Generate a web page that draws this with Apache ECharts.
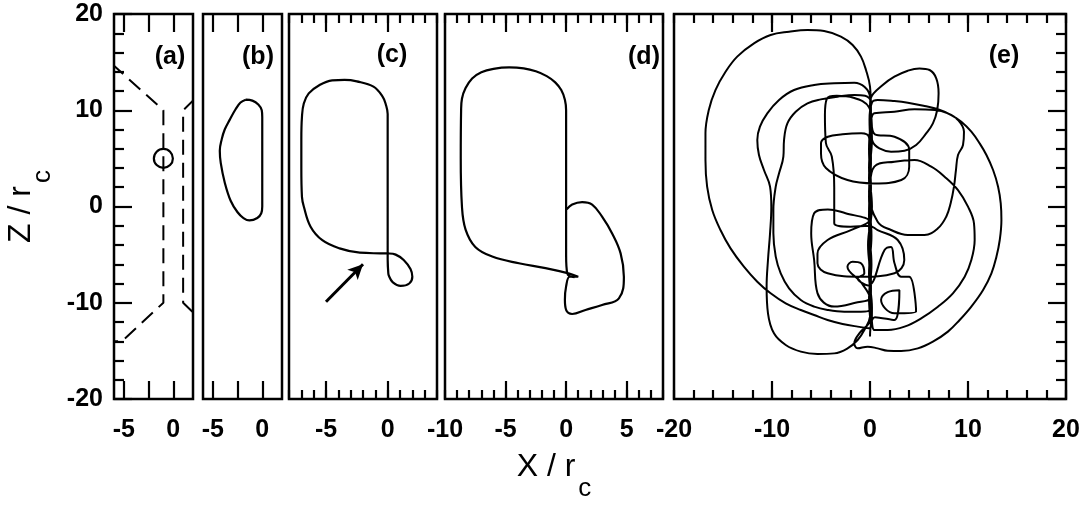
<!DOCTYPE html>
<html>
<head>
<meta charset="utf-8">
<script src="https://cdn.jsdelivr.net/npm/echarts@6/dist/echarts.min.js"></script>
<style>
  html, body { margin: 0; padding: 0; background: #fff; }
  #chart { width: 1087px; height: 512px; }
</style>
</head>
<body>
<div id="chart"></div>
<script>
// ---- data ----
const panelNames = ['(a)', '(b)', '(c)', '(d)', '(e)'];
const xRanges = [[-6, 2], [-6, 2], [-8, 4], [-10, 8], [-20, 20]];
const zMin = -20, zMax = 20, zStep = 10;
const xMajorTicks = [[-5, -2.5, 0], [-5, -2.5, 0], [-5, 0], [-5, 0, 5], [-10, 0, 10]];
const xLabels = [[-5, 0], [-5, 0], [-5, 0], [-10, -5, 0, 5], [-20, -10, 0, 10, 20]];
const xMinorStep = [0, 0, 1, 1, 2];

// (a) nozzle walls (dashed) and the starting point
const nozzleLeft = [[-6.2, 14.8], [-1, 10], [-1, -10], [-5.2, -14], [-6.2, -14]];
const nozzleRight = [[2.2, 11.2], [1, 10], [1, -10], [2.2, -11.2]];
const startPoint = [[-1, 5]];

// (b) closed orbit
const orbitB = [[-1.67, 11.1], [-1.0, 11.0], [-0.4, 10.6], [-0.05, 10.0], [0, 9.3], [0, 7], [0, 4], [0, 1], [0, 0],
  [-0.1, -0.7], [-0.5, -1.2], [-1.3, -1.45], [-1.9, -1.2], [-2.5, -0.6], [-3.2, 0.6], [-3.8, 2.5], [-4.2, 4.5],
  [-4.3, 5.8], [-4.1, 7], [-3.8, 8], [-3.3, 9], [-2.7, 10.1], [-2.2, 10.8], [-1.67, 11.1]];

// (c) orbit with small loop, and arrow
const orbitC = [[0.05, -6.9], [0, -5.5], [0, -3], [0, 0], [0, 3], [0, 6], [0, 8.5], [0, 9.6], [-0.15, 10.6],
  [-0.4, 11.4], [-1.15, 12.45], [-2.5, 13.0], [-3.5, 13.15], [-4.5, 13.1], [-5.55, 12.6], [-6.4, 11.75],
  [-6.8, 10.7], [-6.95, 9.3], [-7.0, 7], [-7.0, 4], [-6.95, 1.0], [-6.8, 0], [-6.25, -2.1], [-5.3, -3.5],
  [-3.9, -4.35], [-2.26, -4.8], [-0.6, -4.87], [0.1, -4.88], [0.65, -5.0], [1.3, -5.55], [1.85, -6.5],
  [2.0, -7.3], [1.75, -8.0], [1.05, -8.25], [0.4, -7.85], [0.1, -7.2], [0.05, -6.9], [0, -5.5]];
const arrowC = [[-5.0, -9.9], [-2.0, -6.0]];

// (d) orbit
const orbitD = [[0.05, -0.3], [0.5, 0.2], [1.32, 0.45], [2.15, 0.2], [2.97, -1.06], [3.8, -2.8], [4.5, -4.87],
  [4.77, -7.3], [4.36, -9.55], [2.97, -10.23], [1.6, -10.75], [0.5, -11.17], [0, -10.75], [-0.1, -9.7],
  [0, -8.3], [0.3, -7.3], [1.0, -7.3],
  [0.2, -6.95], [-1.7, -6.4], [-3.9, -5.9], [-6.1, -5.2], [-7.5, -4.2], [-8.3, -2.4], [-8.6, 0], [-8.7, 5],
  [-8.67, 10], [-8.6, 11.2], [-8.3, 12.3], [-7.76, 13.3], [-7.0, 13.95], [-6.0, 14.3], [-4.7, 14.45],
  [-3.5, 14.35], [-2.5, 14.05], [-1.6, 13.55], [-0.9, 12.9], [-0.4, 12.1], [-0.1, 11.1], [0, 10], [0, 5],
  [0, 1], [0, -2], [0, -5], [0.1, -7], [0.7, -7.35]];

// (e) chaotic orbit
const orbitE = [
  // up the axis
  [0.1, -12.4], [-0.1, -9.5], [0.15, -6], [-0.1, -2], [0.1, 2], [-0.1, 6], [0.1, 10], [0, 12.45],
  // big left loop
  [-0.41, 14.18], [-0.92, 15.57], [-1.77, 16.78], [-2.97, 17.65], [-4.68, 18.23], [-6.38, 18.34], [-8.26, 18.16],
  [-10.14, 17.82], [-11.84, 16.95], [-13.55, 15.57], [-14.74, 14.0], [-15.77, 12.1], [-16.45, 10.03],
  [-16.79, 7.6], [-16.79, 4.83], [-16.62, 2.06], [-16.1, -0.36], [-15.26, -2.44], [-14.23, -4.35],
  [-12.87, -6.25], [-11.5, -7.81], [-10.14, -9.02], [-8.6, -10.06], [-7.06, -10.75], [-5.7, -11.27],
  [-4.33, -11.79], [-2.8, -12.2], [-1.26, -12.48], [0, -12.66],
  [0.2, -10.5], [-0.1, -7], [0.15, -3], [-0.1, 1], [0.1, 5], [-0.05, 9], [0.2, 10.8],
  // outer right loop
  [0.78, 11.07], [2.49, 10.96], [3.86, 10.79], [5.56, 10.44], [6.93, 10.1], [8.29, 9.5], [9.32, 8.81],
  [10.34, 7.77], [11.19, 6.56], [11.88, 5.35], [12.56, 3.79], [13.07, 2.06], [13.34, 0.33], [13.41, -1.4],
  [13.24, -3.48], [12.9, -5.21], [12.39, -6.94], [11.54, -8.68], [10.34, -10.4], [9.15, -11.79], [7.95, -13.0],
  [6.42, -14.04], [4.88, -14.74], [3.17, -15.01], [1.81, -14.98], [0.78, -14.74], [-0.24, -14.56],
  [-1.26, -14.74], [-1.6, -14.2], [-1.09, -13.18], [0, -11.79],
  [0.1, -8], [-0.2, -4], [0.2, 0], [-0.1, 4], [0.1, 8], [0, 11.4],
  // left loop A
  [-1.6, 12.87], [-3.65, 12.8], [-5.7, 12.62], [-7.75, 12.1], [-9.28, 11.07], [-10.48, 9.68], [-11.23, 8.29],
  [-11.5, 6.91], [-11.33, 5.35], [-10.82, 3.79], [-10.2, 2.06], [-10.07, -0.02], [-10.2, -2.79],
  [-10.41, -5.56], [-10.55, -8.33], [-10.41, -11.1], [-9.8, -13.18], [-8.6, -14.39], [-7.06, -15.08],
  [-5.36, -15.32], [-3.65, -15.26], [-2.29, -14.74], [-1.26, -13.87], [-0.58, -12.83], [0, -11.45],
  [0.1, -8.5], [-0.1, -5], [0.1, -1], [-0.1, 3], [0.2, 7], [0, 10.5], [0.1, 11.3],
  // upper right loop
  [1.3, 12.62], [2.49, 13.49], [3.86, 14.11], [5.05, 14.35], [6.08, 14.18], [6.76, 13.32], [7.0, 11.76],
  [6.86, 10.03], [6.42, 8.64], [5.73, 7.6], [4.71, 6.39], [3.52, 5.8], [2.15, 5.7], [0.96, 6.04], [0.27, 6.74],
  [0, 8.5], [0.1, 10.8], [-0.5, 11.5],
  // left loop C
  [-1.6, 11.58], [-3.31, 11.41], [-5.02, 11.13], [-6.38, 10.72], [-7.58, 9.85], [-8.43, 8.64], [-8.77, 6.91],
  [-8.84, 5.18], [-9.28, 3.45], [-9.62, 2.06], [-9.86, -0.36], [-9.86, -2.79], [-9.62, -5.21], [-9.11, -6.94],
  [-8.26, -8.5], [-7.06, -9.71], [-5.7, -10.4], [-4.33, -10.75], [-2.63, -10.93], [-0.92, -10.93], [0, -10.75],
  [0.1, -6], [-0.1, -1], [0, 2],
  // right middle loop
  [0.44, 4.14], [2.49, 4.66], [4.54, 4.83], [6.25, 4.14], [7.61, 3.1], [8.98, 1.71], [10.0, -0.02],
  [10.61, -1.75], [10.68, -3.48], [10.34, -5.56], [9.66, -7.29], [8.46, -9.02], [6.93, -10.41], [5.22, -11.62],
  [3.52, -12.48], [1.81, -12.83], [0.44, -12.83],
  [0.1, -9.5], [-0.1, -4.5], [0.1, 1], [-0.1, 6], [0.1, 8.8],
  // right loop R3
  [0.44, 9.68], [2.49, 9.85], [4.54, 10.1], [6.59, 10.03], [7.95, 9.68], [8.98, 8.99], [9.59, 7.77],
  [9.49, 6.39], [8.98, 5.35], [8.77, 3.79], [8.57, 2.06], [8.23, 0.33], [7.78, -1.06], [6.93, -2.27],
  [5.56, -2.96], [3.86, -2.96], [2.15, -2.44], [0.78, -1.58],
  // inner loops near the axis
  [-0.1, 1.5], [0.1, 4.5], [-0.1, 7.2], [-0.9, 7.6], [-2.8, 7.5], [-4.3, 7.25], [-5.0, 6.6], [-5.0, 5.5],
  [-4.5, 4.0], [-2.3, 2.75], [0.44, 2.4], [3.2, 2.75], [4.0, 4.14], [4.0, 5.87], [2.5, 7.25], [0.5, 7.5],
  [-0.1, 10.3], [-1.7, 11.3], [-3.4, 11.5], [-4.4, 11.2], [-4.6, 9.5], [-4.5, 6.6], [-3.9, 5.2], [-3.65, 2],
  [-3.65, -1.75], [-2.0, -2.1], [-0.1, -2.0],
  [0.78, -2.45], [2.83, -3.48], [3.5, -5.56], [2.5, -6.94], [-0.92, -7.3], [-4.33, -6.94], [-5.36, -5.9],
  [-5.36, -4.9], [-4.33, -3.48], [-1.95, -2.45], [-0.1, -1.5],
  [-2.5, -0.7], [-4.3, -0.3], [-5.7, -0.71], [-6.0, -2.8], [-5.7, -5.56], [-5.36, -9.0], [-3.65, -10.4],
  [-1.5, -10.0], [0, -9.5],
  [-0.9, -7.9], [-2.3, -6.25], [-1.77, -5.73], [-0.92, -5.9], [-0.58, -6.94], [-1.26, -7.46], [-0.2, -8.2],
  [1.5, -4.5], [2.15, -4.2], [2.5, -5.9], [3.17, -7.3], [4.0, -7.3], [4.7, -10.9], [2.5, -11.1], [1.13, -9.7],
  [1.8, -8.9], [3.0, -8.7], [2.5, -11.8], [0.5, -11.5], [0, -13.5]
];

// ---- layout ----
const FONT = 'Liberation Sans';
const panels = [
  { left: 114, width: 79, lx: 170, ly: 57 },
  { left: 203, width: 79, lx: 258, ly: 57 },
  { left: 289, width: 148, lx: 392, ly: 55 },
  { left: 445, width: 218, lx: 644, ly: 57 },
  { left: 674, width: 392, lx: 1004, ly: 56 }
];
const plotTop = 14, plotHeight = 385;
const tickStyle = { color: '#000', width: 2.2 };
const labelStyle = { color: '#000', fontFamily: FONT, fontWeight: 'bold', fontSize: 25 };
const titleRich = {
  m: { fontSize: 32, fontFamily: FONT, color: '#000', verticalAlign: 'top', lineHeight: 32 },
  s: { fontSize: 26, fontFamily: FONT, color: '#000', verticalAlign: 'top', lineHeight: 26, padding: [25, 0, 0, 3] }
};

const grids = [], xAxes = [], yAxes = [], bottomAxis = [];

panels.forEach((p, i) => {
  grids.push({
    left: p.left, width: p.width, top: plotTop, height: plotHeight,
    show: true, borderColor: '#000', borderWidth: 2.5, backgroundColor: 'transparent'
  });
  ['bottom', 'top'].forEach(pos => {
    if (xMinorStep[i]) {
      xAxes.push({
        gridIndex: i, type: 'value', position: pos,
        min: xRanges[i][0], max: xRanges[i][1], interval: xMinorStep[i],
        axisLine: { show: false, onZero: false },
        axisTick: { inside: true, length: 9, lineStyle: tickStyle },
        axisLabel: { show: false },
        splitLine: { show: false }
      });
    }
    if (pos === 'bottom') bottomAxis[i] = xAxes.length;
    const ax = {
      gridIndex: i, type: 'value', position: pos,
      min: xRanges[i][0], max: xRanges[i][1],
      axisLine: { show: false, onZero: false },
      axisTick: { inside: true, length: 18, customValues: xMajorTicks[i], lineStyle: tickStyle },
      axisLabel: Object.assign({ show: pos === 'bottom', customValues: xLabels[i], margin: 19 }, labelStyle),
      splitLine: { show: false }
    };
    if (i === 3 && pos === 'bottom') {
      ax.name = '{m|X / r}{s|c}';
      ax.nameLocation = 'middle';
      ax.nameGap = 52;
      ax.nameTextStyle = { rich: titleRich };
    }
    xAxes.push(ax);
  });

  const yAx = {
    gridIndex: i, type: 'value', position: 'left',
    min: zMin, max: zMax, interval: zStep, show: i === 0,
    axisLine: { show: false, onZero: false },
    axisTick: { inside: true, length: 18, lineStyle: tickStyle },
    minorTick: { show: true, splitNumber: 5, length: 10, lineStyle: tickStyle },
    axisLabel: Object.assign({ margin: 11 }, labelStyle),
    splitLine: { show: false }, minorSplitLine: { show: false }
  };
  if (i === 0) {
    yAx.name = '{m|Z / r}{s|c}';
    yAx.nameLocation = 'middle';
    yAx.nameRotate = 90;
    yAx.nameGap = 77;
    yAx.nameTextStyle = { rich: titleRich };
  }
  yAxes.push(yAx);
});
// right-hand ticks on the last panel
yAxes.push({
  gridIndex: 4, type: 'value', position: 'right',
  min: zMin, max: zMax, interval: zStep,
  axisLine: { show: false, onZero: false },
  axisTick: { inside: true, length: 18, lineStyle: tickStyle },
  minorTick: { show: true, splitNumber: 5, length: 10, lineStyle: tickStyle },
  axisLabel: { show: false },
  splitLine: { show: false }, minorSplitLine: { show: false }
});

function curve(i, data, extra) {
  return Object.assign({
    type: 'line', xAxisIndex: bottomAxis[i], yAxisIndex: i, data: data,
    showSymbol: false, symbol: 'none', silent: true, smooth: 0.4,
    lineStyle: { color: '#000', width: 2.2 }
  }, extra || {});
}

const series = [
  curve(0, nozzleLeft, { smooth: false, lineStyle: { color: '#000', width: 2, type: [15, 8] } }),
  curve(0, nozzleRight, { smooth: false, lineStyle: { color: '#000', width: 2, type: [15, 8] } }),
  {
    type: 'scatter', xAxisIndex: bottomAxis[0], yAxisIndex: 0, data: startPoint,
    symbol: 'circle', symbolSize: 19, silent: true,
    itemStyle: { color: 'rgba(0,0,0,0)', borderColor: '#000', borderWidth: 2.2, opacity: 1 }
  },
  curve(1, orbitB),
  curve(2, orbitC, {
    markLine: {
      silent: true, symbol: ['none', 'arrow'], symbolSize: [11, 15],
      label: { show: false },
      lineStyle: { color: '#000', width: 3, type: 'solid' },
      data: [[{ coord: arrowC[0] }, { coord: arrowC[1] }]]
    }
  }),
  curve(3, orbitD),
  curve(4, orbitE, { smooth: 0.4, lineStyle: { color: '#000', width: 2 } })
];

const graphic = panels.map((p, i) => ({
  type: 'text', silent: true,
  style: {
    text: panelNames[i], x: p.lx, y: p.ly,
    font: 'bold 25px "' + FONT + '"', fill: '#000',
    textAlign: 'center', textVerticalAlign: 'middle', align: 'center', verticalAlign: 'middle'
  }
}));

const chart = echarts.init(document.getElementById('chart'));
chart.setOption({
  animation: false,
  backgroundColor: '#fff',
  textStyle: { fontFamily: FONT },
  grid: grids,
  xAxis: xAxes,
  yAxis: yAxes,
  series: series,
  graphic: graphic
});
</script>
</body>
</html>
